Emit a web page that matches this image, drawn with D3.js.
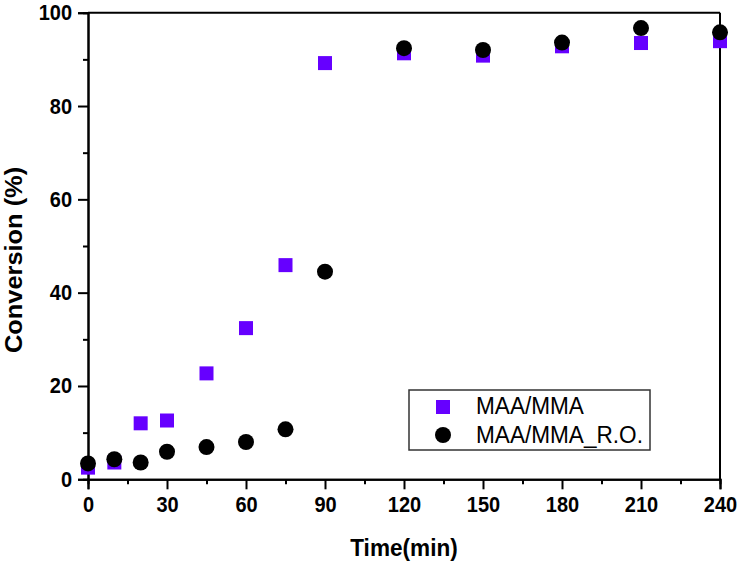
<!DOCTYPE html>
<html>
<head>
<meta charset="utf-8">
<script src="https://cdn.jsdelivr.net/npm/d3@7"></script>
<style>
  html, body { margin: 0; padding: 0; background: #fff; }
  svg { display: block; font-family: "Liberation Sans", Arial, sans-serif; }
</style>
</head>
<body>
<svg id="chart" width="740" height="563"></svg>
<script>
// ---- data ----
const times = [0, 10, 20, 30, 45, 60, 75, 90, 120, 150, 180, 210, 240];
const maaMma = [2.5, 3.6, 12.0, 12.6, 22.7, 32.4, 45.9, 89.2, 91.3, 90.8, 92.8, 93.5, 93.9];
const maaMmaRO = [3.4, 4.3, 3.6, 5.9, 6.9, 8.0, 10.7, 44.5, 92.4, 92.0, 93.6, 96.7, 95.8];
const xTicks = [0, 30, 60, 90, 120, 150, 180, 210, 240];
const xMinor = [15, 45, 75, 105, 135, 165, 195, 225];
const yTicks = [0, 20, 40, 60, 80, 100];
const yMinor = [10, 30, 50, 70, 90];
const seriesNames = ["MAA/MMA", "MAA/MMA_R.O."];

(function () {
const svg = d3.select("#chart");
const mLeft = 88, mRight = 720, mTop = 12.7, mBottom = 479.3;
const x = d3.scaleLinear().domain([0, 240]).range([mLeft, mRight]);
const y = d3.scaleLinear().domain([0, 100]).range([mBottom, mTop]);

const purple = "#6600ff";
const STRETCH = 1.09; // reference glyphs are taller than wide

// set font size, then squeeze/stretch the run length
function fit(sel, size, lenScale) {
  sel.attr("font-size", size).each(function () {
    const w = this.getComputedTextLength();
    d3.select(this).attr("textLength", w * lenScale).attr("lengthAdjust", "spacingAndGlyphs");
  });
}

// minor ticks
svg.append("g").attr("transform", `translate(0,${mBottom})`)
  .call(d3.axisBottom(x).tickValues(xMinor).tickSize(5).tickFormat(""));
svg.append("g").attr("transform", `translate(${mLeft},0)`)
  .call(d3.axisLeft(y).tickValues(yMinor).tickSize(5).tickFormat(""));

// major axes
svg.append("g").attr("class", "ax").attr("transform", `translate(0,${mBottom})`)
  .call(d3.axisBottom(x).tickValues(xTicks).tickSize(10).tickPadding(7).tickFormat(d3.format("d")));
svg.append("g").attr("class", "ax").attr("transform", `translate(${mLeft},0)`)
  .call(d3.axisLeft(y).tickValues(yTicks).tickSize(10).tickPadding(6).tickFormat(d3.format("d")));

svg.selectAll(".domain").attr("stroke", "#000").attr("stroke-width", 2);
svg.selectAll(".tick line").attr("stroke", "#000").attr("stroke-width", 2);
const tt = svg.selectAll(".tick text").attr("font-weight", "bold")
  .attr("font-family", "'Liberation Sans', Arial, sans-serif").attr("fill", "#000");
fit(tt, 20 * STRETCH, 1 / STRETCH);

// top & right border
svg.append("line").attr("x1", mLeft).attr("x2", mRight).attr("y1", mTop).attr("y2", mTop)
  .attr("stroke", "#000").attr("stroke-width", 2);
svg.append("line").attr("x1", mRight).attr("x2", mRight).attr("y1", mTop).attr("y2", mBottom)
  .attr("stroke", "#000").attr("stroke-width", 2);

// axis titles
const xt = svg.append("text").attr("x", 404).attr("y", 556)
  .attr("text-anchor", "middle").attr("font-weight", "bold")
  .text("Time(min)");
fit(xt, 22.6 * STRETCH, 1 / STRETCH);
const yt = svg.append("text").attr("transform", "translate(22,260) rotate(-90)")
  .attr("text-anchor", "middle").attr("font-weight", "bold")
  .text("Conversion (%)");
fit(yt, 23.3, STRETCH);

// data marks
const sq = 14;
svg.append("g").selectAll("rect").data(times.map((t, i) => [t, maaMma[i]]))
  .join("rect")
  .attr("x", d => x(d[0]) - sq / 2).attr("y", d => y(d[1]) - sq / 2)
  .attr("width", sq).attr("height", sq).attr("fill", purple);
svg.append("g").selectAll("circle").data(times.map((t, i) => [t, maaMmaRO[i]]))
  .join("circle")
  .attr("cx", d => x(d[0])).attr("cy", d => y(d[1])).attr("r", 8).attr("fill", "#000");

// legend
const lg = svg.append("g");
lg.append("rect").attr("x", 409).attr("y", 390).attr("width", 241).attr("height", 60)
  .attr("fill", "#fff").attr("stroke", "#333").attr("stroke-width", 1.5);
lg.append("rect").attr("x", 443 - sq / 2).attr("y", 407 - sq / 2).attr("width", sq).attr("height", sq).attr("fill", purple);
lg.append("circle").attr("cx", 443).attr("cy", 435).attr("r", 8).attr("fill", "#000");
const l1 = lg.append("text").attr("x", 476).attr("y", 414).text(seriesNames[0]);
const l2 = lg.append("text").attr("x", 476).attr("y", 443).text(seriesNames[1]);
fit(l1, 22.6 * STRETCH, 1 / STRETCH);
fit(l2, 22.6 * STRETCH, 1 / STRETCH);
})();
</script>
</body>
</html>
